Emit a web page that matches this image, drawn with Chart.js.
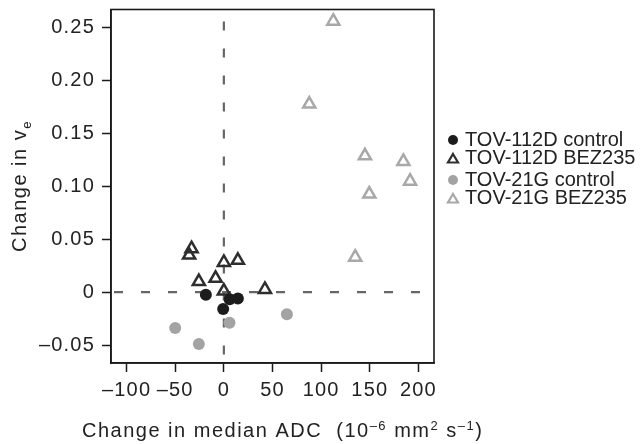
<!DOCTYPE html>
<html>
<head>
<meta charset="utf-8">
<script src="https://cdn.jsdelivr.net/npm/chart.js@4.4.1/dist/chart.umd.min.js"></script>
<style>
  body { margin: 0; background: #fff; }
</style>
</head>
<body>
<canvas id="adcChart" width="641" height="444"></canvas>
<script>
// series values
const ctrl112X = [-18.5, 6, 14.4, -0.7];
const ctrl112Y = [-0.0025, -0.0068, -0.006, -0.016];
const bez112X = [-33.2, -35.7, 0, 14.4, -25.7, -8.5, 0, 42.2];
const bez112Y = [0.041, 0.035, 0.028, 0.030, 0.010, 0.013, 0.001, 0.0025];
const ctrl21X = [-50, -25.7, 5.8, 64.8];
const ctrl21Y = [-0.034, -0.049, -0.029, -0.021];
const bez21X = [112.5, 87.8, 145, 184.5, 191.4, 149.5, 135];
const bez21Y = [0.256, 0.1776, 0.1288, 0.1235, 0.1048, 0.0926, 0.033];

const seriesNames = ['TOV-112D control', 'TOV-112D BEZ235', 'TOV-21G control', 'TOV-21G BEZ235'];
const xTicks = [-100, -50, 0, 50, 100, 150, 200];
const yTicks = [-0.05, 0, 0.05, 0.10, 0.15, 0.20, 0.25];

const FONT = "'Liberation Sans', Arial, Helvetica, sans-serif";
const pts = (xs, ys) => xs.map((x, i) => ({ x: x, y: ys[i] }));
const minus = s => String(s).replace('-', '\u2013');

// the figure's lettering is a bit wider-set than Arial
const tracking = {
  id: 'tracking',
  beforeDraw(chart) { chart.ctx.letterSpacing = '1.2px'; }
};

// dashed lines through zero + closed box
const zeroLines = {
  id: 'zeroLines',
  beforeDatasetsDraw(chart) {
    const { ctx, chartArea: a, scales } = chart;
    const x0 = scales.x.getPixelForValue(0);
    const y0 = scales.y.getPixelForValue(0);
    ctx.save();
    ctx.strokeStyle = '#666';
    ctx.lineWidth = 2.2;
    ctx.setLineDash([9, 18]);
    ctx.beginPath();
    ctx.moveTo(x0, a.top + 12);
    ctx.lineTo(x0, a.bottom);
    ctx.moveTo(a.left + 3, y0);
    ctx.lineTo(a.right, y0);
    ctx.stroke();
    ctx.restore();
  },
  afterDraw(chart) {
    const { ctx, chartArea: a } = chart;
    ctx.save();
    ctx.strokeStyle = '#1a1a1a';
    ctx.lineWidth = 1.6;
    ctx.strokeRect(a.left, a.top, a.right - a.left, a.bottom - a.top);
    ctx.restore();
  }
};

function richText(ctx, parts, x, y) {
  let cx = x;
  parts.forEach(p => {
    const small = p[1] !== 'n';
    ctx.font = (small ? '13px ' : '20px ') + FONT;
    const dy = p[1] === 'sup' ? -7 : (p[1] === 'sub' ? 5 : 0);
    ctx.fillText(p[0], cx, y + dy);
    cx += ctx.measureText(p[0]).width;
  });
}

// axis titles and legend
const labels = {
  id: 'labels',
  afterDraw(chart) {
    const { ctx } = chart;
    ctx.save();
    ctx.fillStyle = '#222';
    ctx.textBaseline = 'alphabetic';
    ctx.textAlign = 'left';
    ctx.letterSpacing = '1.5px';
    richText(ctx, [['Change in median ADC  (10', 'n'], ['\u20136', 'sup'], [' mm', 'n'], ['2', 'sup'],
      [' s', 'n'], ['\u20131', 'sup'], [')', 'n']], 82, 437);

    ctx.save();
    ctx.translate(26, 252);
    ctx.rotate(-Math.PI / 2);
    richText(ctx, [['Change in v', 'n'], ['e', 'sub']], 0, 0);
    ctx.restore();

    ctx.letterSpacing = '0px';
    const rows = [140, 158.5, 180, 198.5];
    chart.data.datasets.forEach((ds, i) => {
      const y = rows[i];
      ctx.beginPath();
      if (ds.pointStyle === 'circle') {
        ctx.fillStyle = ds.backgroundColor;
        ctx.arc(453, y, 5, 0, Math.PI * 2);
        ctx.fill();
      } else {
        ctx.strokeStyle = ds.borderColor;
        ctx.lineWidth = 2.2;
        ctx.moveTo(453, y - 4.5);
        ctx.lineTo(458, y + 4);
        ctx.lineTo(448, y + 4);
        ctx.closePath();
        ctx.stroke();
      }
      ctx.fillStyle = '#222';
      ctx.font = '20px ' + FONT;
      ctx.textBaseline = 'middle';
      ctx.fillText(ds.label, 465, y);
    });
    ctx.restore();
  }
};

const adcChart = new Chart(document.getElementById('adcChart').getContext('2d'), {
  type: 'scatter',
  data: {
    datasets: [{
      label: seriesNames[0],
      data: pts(ctrl112X, ctrl112Y),
      pointStyle: 'circle',
      backgroundColor: '#1c1c1c',
      borderWidth: 0,
      pointRadius: 6
    }, {
      label: seriesNames[1],
      data: pts(bez112X, bez112Y),
      pointStyle: 'triangle',
      backgroundColor: 'rgba(255,255,255,0)',
      borderColor: '#2e2e2e',
      borderWidth: 2.5,
      pointRadius: 7
    }, {
      label: seriesNames[2],
      data: pts(ctrl21X, ctrl21Y),
      pointStyle: 'circle',
      backgroundColor: '#a3a3a3',
      borderWidth: 0,
      pointRadius: 6
    }, {
      label: seriesNames[3],
      data: pts(bez21X, bez21Y),
      pointStyle: 'triangle',
      backgroundColor: 'rgba(255,255,255,0)',
      borderColor: '#a8a8a8',
      borderWidth: 2.5,
      pointRadius: 7
    }]
  },
  options: {
    responsive: false,
    animation: false,
    devicePixelRatio: 1,
    layout: { padding: { top: 8, right: 207, left: 0, bottom: 0 } },
    plugins: { legend: { display: false }, tooltip: { enabled: false } },
    scales: {
      x: {
        min: -116, max: 216,
        afterBuildTicks: s => { s.ticks = xTicks.map(v => ({ value: v })); },
        afterFit: s => { s.height = 81; s.paddingLeft = 0; s.paddingRight = 0; },
        grid: { drawOnChartArea: false, drawTicks: true, tickLength: 9, tickWidth: 1.5, color: '#1a1a1a' },
        border: { display: true, color: '#1a1a1a', width: 1.6 },
        ticks: { color: '#222', font: { family: FONT, size: 20 }, padding: 6, maxRotation: 0,
          callback: v => minus(v) }
      },
      y: {
        min: -0.067, max: 0.267,
        afterBuildTicks: s => { s.ticks = yTicks.map(v => ({ value: v })); },
        afterFit: s => { s.width = 111; s.paddingTop = 0; s.paddingBottom = 0; },
        grid: { drawOnChartArea: false, drawTicks: true, tickLength: 9, tickWidth: 1.5, color: '#1a1a1a' },
        border: { display: true, color: '#1a1a1a', width: 1.6 },
        ticks: { color: '#222', font: { family: FONT, size: 20 }, padding: 7,
          callback: v => v === 0 ? '0' : minus(v.toFixed(2)) }
      }
    }
  },
  plugins: [tracking, zeroLines, labels]
});
</script>
</body>
</html>
